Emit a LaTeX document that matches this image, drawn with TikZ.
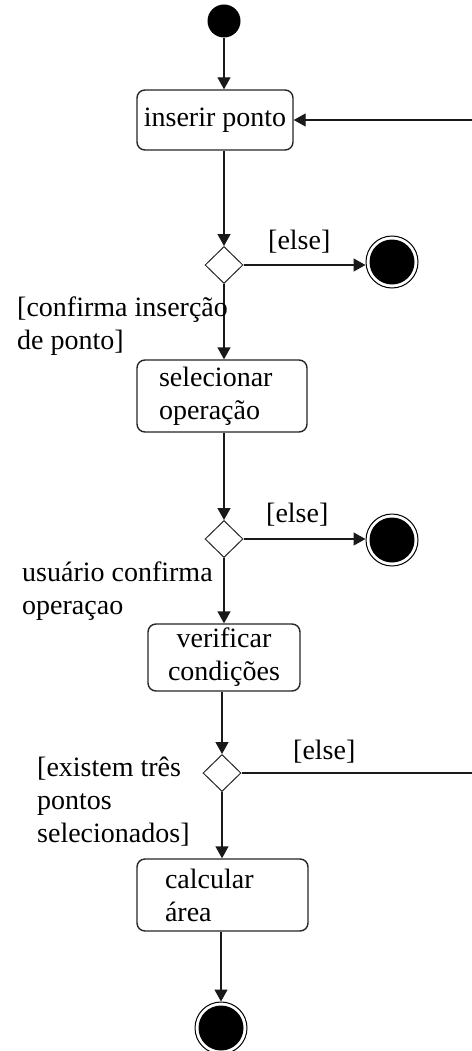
\documentclass[tikz,border=0pt]{standalone}
\usepackage{fontspec}
\setmainfont{Liberation Serif}
\usetikzlibrary{arrows.meta,shapes.geometric}
\begin{document}
\begin{tikzpicture}[x=1pt,y=-1pt,
  txt/.style={font=\fontsize{28}{33}\selectfont, inner sep=0pt},
  lbl/.style={txt, align=left, anchor=base west},
  act/.style={draw=black!85, line width=1.4pt, rounded corners=8pt, txt, align=left},
  dec/.style={diamond, draw=black!85, line width=1pt, minimum width=38pt, minimum height=37pt, inner sep=0pt, aspect=1},
  init/.style={circle, fill=black, minimum size=33pt, inner sep=0pt},
  final/.style={circle, draw=black, fill=white, minimum size=52pt, inner sep=0pt, line width=1pt,
     path picture={\fill[black] (path picture bounding box.center) circle (22.5pt);}},
  conn/.style={line width=1.4pt, draw=black!90},
  arr/.style={conn, -{Triangle[length=12pt,width=13pt]}}
]
\useasboundingbox[fill=white] (0,0) rectangle (471,1051);

\node[init] (start) at (224,21) {};
\node[act, minimum width=156pt, minimum height=60pt, align=center] (a1) at (215,120) {inserir ponto};
\node[dec] (d1) at (224,265) {};
\node[final] (f1) at (392,262) {};
\node[act, minimum width=170pt, minimum height=72pt, text width=126pt] (a2) at (222,396) {selecionar\\operação};
\node[dec] (d2) at (224,539) {};
\node[final] (f2) at (392,540) {};
\node[act, minimum width=152pt, minimum height=67pt, align=center] (a3) at (224,657.5) {verificar\\condições};
\node[dec] (d3) at (222,773) {};
\node[act, minimum width=171pt, minimum height=72pt, text width=115pt] (a4) at (222.5,895) {calcular\\área};
\node[final] (f3) at (221,1028) {};

\coordinate (r1) at (475,120);
\coordinate (r2) at (475,773);

\draw[arr] (start) -- (a1.north -| start);
\draw[arr] (a1.south -| d1) -- (d1.north);
\draw[arr] (d1.east) -- (f1.west |- d1.east);
\draw[arr] (d1.south) -- (a2.north -| d1);
\draw[arr] (a2.south -| d2) -- (d2.north);
\draw[arr] (d2.east) -- (f2.west |- d2.east);
\draw[arr] (d2.south) -- (a3.north -| d2);
\draw[arr] (a3.south -| d3) -- (d3.north);
\draw[conn] (d3.east) -- (r2);
\draw[arr] (r1) -- (a1.east);
\draw[arr] (d3.south) -- (a4.north -| d3);
\draw[arr] (a4.south -| f3) -- (f3.north);

\node[lbl] (e1) at (268,249) {[else]};
\node[lbl] (e2) at (266,522) {[else]};
\node[lbl] (e3) at (293,759) {[else]};
\node[lbl] (g1) at (17,349) {[confirma inserção\\de ponto]};
\node[lbl] (g2) at (22,614) {usuário confirma\\operaçao};
\node[lbl] (g3) at (37,842) {[existem três\\pontos\\selecionados]};
\end{tikzpicture}
\end{document}
